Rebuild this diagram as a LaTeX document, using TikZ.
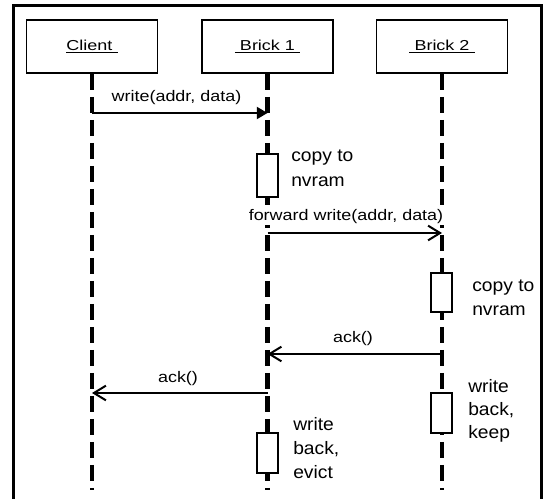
\documentclass[tikz,border=0pt]{standalone}
\usepackage{fontspec}
\setmainfont{Liberation Sans}
\newfontfamily\hdfont[FakeStretch=1.25]{Liberation Sans}
\newfontfamily\lbfont[FakeStretch=1.17]{Liberation Sans}
\newfontfamily\bdfont[FakeStretch=1.07]{Liberation Sans}
\usetikzlibrary{arrows.meta}
\begin{document}
\begin{tikzpicture}[x=0.75pt,y=-0.75pt,
  headbox/.style={draw,line width=1.1pt,minimum width=98pt,minimum height=40pt,inner sep=0pt,
    font=\hdfont\fontsize{10.8pt}{12pt}\selectfont},
  lifeline/.style={line width=3.4pt,dash pattern=on 12pt off 5.25pt},
  actbox/.style={draw,fill=white,line width=1.1pt,minimum width=16pt,inner sep=0pt},
  msglabel/.style={anchor=base,fill=white,inner sep=1pt,font=\lbfont\fontsize{11.5pt}{13pt}\selectfont},
  note/.style={anchor=base west,inner sep=0pt,font=\bdfont\fontsize{13.5pt}{16pt}\selectfont},
  callmsg/.style={line width=1.5pt,-{Triangle[length=8pt,width=9pt]}},
  msg/.style={line width=1.5pt,-{Straight Barb[length=9pt,width=11pt]}}]
\useasboundingbox (0,0) rectangle (546,499);
% outer frame, open at the bottom
\draw[line width=2.25pt] (13.5,499) -- (13.5,5.5) -- (541,5.5) -- (541,499);

% participants
\node[headbox] (client) at (92,46.5) {\underline{Client\ }};
\node[headbox] (brick1) at (267.5,46.5) {\underline{\ Brick 1\ }};
\node[headbox] (brick2) at (442,46.5) {\underline{\ Brick 2\ }};

% lifeline ends
\coordinate (clientEnd) at (92,490);
\coordinate (brick1End) at (267.5,490);
\coordinate (brick2End) at (442,490);
\draw[lifeline] (client.south) -- (clientEnd);
\draw[lifeline] (brick1.south) -- (brick1End);
\draw[lifeline] (brick2.south) -- (brick2End);

% message points on the lifelines
\coordinate (wS) at (92,113);
\coordinate (wE) at (267.5,113);
\coordinate (fS) at (267.5,233);
\coordinate (fE) at (442,233);
\coordinate (a1S) at (442,354);
\coordinate (a1E) at (267.5,354);
\coordinate (a2S) at (267.5,393);
\coordinate (a2E) at (92,393);

% message labels (white behind, so lifelines break around them)
\node[msglabel] (wLbl) at (176.5,102) {write(addr, data)};
\node[msglabel] (fLbl) at (346,220) {forward write(addr, data)};
\node[msglabel] (a1Lbl) at (353,342) {ack()};
\node[msglabel] (a2Lbl) at (178,382) {ack()};

% messages
\draw[callmsg] (wS) -- (wE);
\draw[msg] (fS) -- (fE);
\draw[msg] (a1S) -- (a1E);
\draw[msg] (a2S) -- (a2E);

% activations
\node[actbox,minimum height=32.25pt] (actA) at (267.5,175.5) {};
\node[note] (actA1) at (291,162) {copy to};
\node[note] (actA2) at (291,186) {nvram};

\node[actbox,minimum height=29.25pt] (actB) at (441.5,292.5) {};
\node[note] (actB1) at (472,291) {copy to};
\node[note] (actB2) at (472,315) {nvram};

\node[actbox,minimum height=30pt] (actC) at (441.5,413) {};
\node[note] (actC1) at (468,392) {write};
\node[note] (actC2) at (468,415) {back,};
\node[note] (actC3) at (468,438) {keep};

\node[actbox,minimum height=30pt] (actD) at (267.5,453) {};
\node[note] (actD1) at (293,430) {write};
\node[note] (actD2) at (293,454) {back,};
\node[note] (actD3) at (293,478) {evict};
\end{tikzpicture}
\end{document}
